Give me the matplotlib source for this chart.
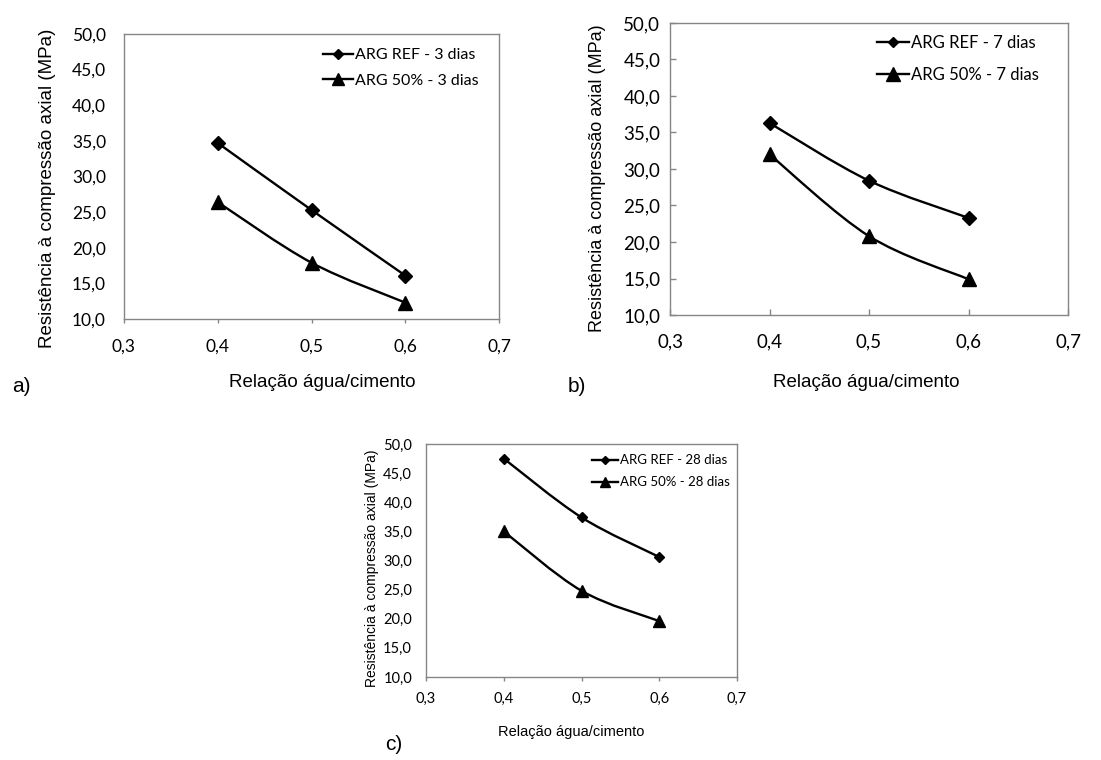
import matplotlib
matplotlib.use('Agg')
import matplotlib.pyplot as plt
from matplotlib.path import Path
from matplotlib.patches import PathPatch
from matplotlib.lines import Line2D
import numpy as np

# data
ac_ratio = [0.4, 0.5, 0.6]
ref_3d = [34.7, 25.3, 16.1]
arg50_3d = [26.4, 17.9, 12.3]
ref_7d = [36.3, 28.4, 23.3]
arg50_7d = [32.0, 20.8, 14.9]
ref_28d = [47.5, 37.4, 30.6]
arg50_28d = [35.0, 24.8, 19.6]

x_ticks = [0.3, 0.4, 0.5, 0.6, 0.7]
y_ticks = [10, 15, 20, 25, 30, 35, 40, 45, 50]

W, H = 1101, 760
TICK_FONT = 'Lato'
LABEL_FONT = 'Liberation Sans'
SPINE_COLOR = '#868686'

fig = plt.figure(figsize=(W / 100, H / 100), dpi=100)


def px_rect(x0, y0, x1, y1):
    # pixel box -> figure fraction rect
    return [x0 / W, 1 - y1 / H, (x1 - x0) / W, (y1 - y0) / H]


def px(x, y):
    return x / W, 1 - y / H


def smooth_path(x, y):
    # Excel style smoothed line (Catmull-Rom segments as cubic Bezier)
    pts = np.column_stack([x, y]).astype(float)
    n = len(pts)
    verts = [pts[0]]
    codes = [Path.MOVETO]
    for i in range(n - 1):
        p0 = pts[i - 1] if i > 0 else pts[i]
        p1 = pts[i]
        p2 = pts[i + 1]
        p3 = pts[i + 2] if i + 2 < n else pts[i + 1]
        c1 = p1 + (p2 - p0) / 6.0
        c2 = p2 - (p3 - p1) / 6.0
        verts += [c1, c2, p2]
        codes += [Path.CURVE4] * 3
    return Path(verts, codes)


def panel(rect, series, labels, fs_tick, fs_leg, ms_d, ms_t, pads, tick_dir,
          leg_anchor, leg_spacing, leg_hlen):
    ax = fig.add_axes(rect)
    for (yv, mk, ms) in zip(series, ['D', '^'], [ms_d, ms_t]):
        ax.add_patch(PathPatch(smooth_path(ac_ratio, yv), fill=False,
                               edgecolor='black', lw=1.7, zorder=2))
        ax.plot(ac_ratio, yv, linestyle='none', marker=mk, ms=ms,
                color='black', zorder=3)
    ax.set_xlim(0.3, 0.7)
    ax.set_ylim(10, 50)
    ax.set_xticks(x_ticks)
    ax.set_yticks(y_ticks)
    ax.set_xticklabels(['{:.1f}'.format(v).replace('.', ',') for v in x_ticks],
                       fontfamily=TICK_FONT, fontsize=fs_tick)
    ax.set_yticklabels(['{:.1f}'.format(v).replace('.', ',') for v in y_ticks],
                       fontfamily=TICK_FONT, fontsize=fs_tick)
    for s in ax.spines.values():
        s.set_color(SPINE_COLOR)
        s.set_linewidth(1.0)
    if tick_dir == 'in':
        ax.tick_params(axis='both', direction='in', length=4, width=1,
                       color=SPINE_COLOR)
        ax.tick_params(axis='x', pad=pads[0])
        ax.tick_params(axis='y', pad=pads[1])
    else:
        ax.tick_params(axis='x', direction='out', length=3, width=1,
                       color=SPINE_COLOR, pad=pads[0])
        ax.tick_params(axis='y', length=0, pad=pads[1])

    handles = [Line2D([], [], color='black', lw=1.7, marker='D', ms=ms_d * 0.8),
               Line2D([], [], color='black', lw=1.7, marker='^', ms=ms_t * 0.9)]
    ax.legend(handles, labels, loc='upper left', bbox_to_anchor=leg_anchor,
              frameon=False, borderpad=0, borderaxespad=0,
              handlelength=leg_hlen, handletextpad=0.15,
              labelspacing=leg_spacing,
              prop={'family': TICK_FONT, 'size': fs_leg})
    return ax


# panel a
panel(px_rect(124, 34, 499, 319), [ref_3d, arg50_3d],
      ['ARG REF - 3 dias', 'ARG 50% - 3 dias'],
      fs_tick=12.5, fs_leg=11.5, ms_d=7, ms_t=10, pads=(11, 13), tick_dir='out',
      leg_anchor=(0.53, 0.95), leg_spacing=0.7, leg_hlen=1.9)
fig.text(*px(48, 188), 'Resistência à compressão axial (MPa)', rotation=90,
         ha='center', va='center', fontfamily=LABEL_FONT, fontsize=13.5)
fig.text(*px(322, 383), 'Relação água/cimento', ha='center', va='center',
         fontfamily=LABEL_FONT, fontsize=13.5)
fig.text(*px(21, 387), 'a)', ha='center', va='center',
         fontfamily=LABEL_FONT, fontsize=15)

# panel b
panel(px_rect(670, 23, 1068, 315), [ref_7d, arg50_7d],
      ['ARG REF - 7 dias', 'ARG 50% - 7 dias'],
      fs_tick=13.5, fs_leg=12, ms_d=7, ms_t=10.5, pads=(13, 7), tick_dir='in',
      leg_anchor=(0.52, 0.96), leg_spacing=0.95, leg_hlen=1.9)
fig.text(*px(598, 178), 'Resistência à compressão axial (MPa)', rotation=90,
         ha='center', va='center', fontfamily=LABEL_FONT, fontsize=13)
fig.text(*px(866, 383), 'Relação água/cimento', ha='center', va='center',
         fontfamily=LABEL_FONT, fontsize=13.5)
fig.text(*px(577, 387), 'b)', ha='center', va='center',
         fontfamily=LABEL_FONT, fontsize=15)

# panel c
panel(px_rect(426, 444, 737, 677), [ref_28d, arg50_28d],
      ['ARG REF - 28 dias', 'ARG 50% - 28 dias'],
      fs_tick=10.5, fs_leg=9.5, ms_d=5.5, ms_t=8.5, pads=(8, 10), tick_dir='out',
      leg_anchor=(0.534, 0.955), leg_spacing=0.75, leg_hlen=2.0)
fig.text(*px(372, 568), 'Resistência à compressão axial (MPa)', rotation=90,
         ha='center', va='center', fontfamily=LABEL_FONT, fontsize=10)
fig.text(*px(571, 732), 'Relação água/cimento', ha='center', va='center',
         fontfamily=LABEL_FONT, fontsize=10.5)
fig.text(*px(394, 745), 'c)', ha='center', va='center',
         fontfamily=LABEL_FONT, fontsize=15)

fig.savefig('out.png', dpi=100)
plt.close()
